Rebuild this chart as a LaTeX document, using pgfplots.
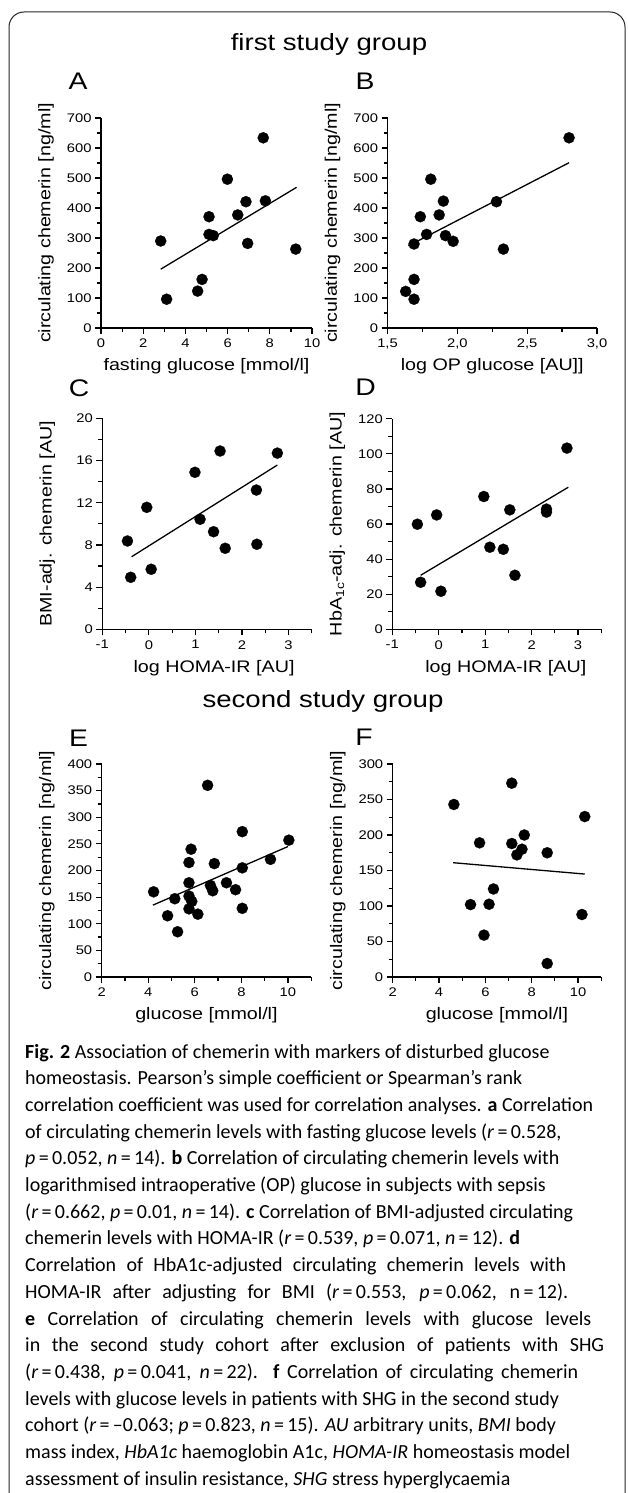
\documentclass[border=0pt]{standalone}
\usepackage{fontspec}
\setmainfont{Carlito}
\newfontfamily\chartfont[FakeStretch=1.18]{Liberation Sans}
\usepackage{pgfplots}
\pgfplotsset{compat=1.18}

\newcommand\tickfont{\chartfont\fontsize{12.5}{12.5}\selectfont}
\newcommand\labfont{\chartfont\fontsize{16.7}{17}\selectfont}
\newcommand\letfont{\chartfont\fontsize{24}{24}\selectfont}
\newcommand\titfont{\chartfont\fontsize{23.4}{24}\selectfont}

\pgfplotsset{
  panel/.style={
    scale only axis, clip=false, enlargelimits=false,
    anchor=south west,
    axis x line=bottom, axis y line=left,
    axis line style={-, line width=1.3pt},
    tick align=outside,
    major tick length=6pt, minor tick length=4pt,
    every tick/.style={black, line width=1.2pt},
    tick label style={font=\tickfont},
    xticklabel style={yshift=-1.5pt},
    label style={font=\labfont},
    xlabel style={at={([yshift=-38.5pt]axis description cs:0.5,0)}, anchor=center},
    ylabel style={at={([xshift=-55pt]axis description cs:0,0.5)}, anchor=center},
    /pgf/number format/assume math mode=true,
  },
  dots/.style={only marks, mark=*, mark size=5.6pt, mark options={fill=black, draw=black, line width=0.2pt}},
  fit/.style={black, line width=1.3pt, no marks},
}

\begin{document}
\begin{tikzpicture}
\useasboundingbox (0pt,0pt) rectangle (627pt,-1493pt);
\draw[line width=1pt, black!85, rounded corners=15pt] (9pt,-1493pt) -- (9pt,-12pt) -- (625pt,-12pt) -- (625pt,-1493pt);

\node[anchor=base, font=\titfont] at (329pt,-50.7pt) {first study group};
\node[anchor=base, font=\titfont] at (323pt,-707pt) {second study group};
\node[anchor=base, font=\letfont] at (78pt,-89.3pt) {A};
\node[anchor=base, font=\letfont] at (365pt,-89.3pt) {B};
\node[anchor=base, font=\letfont] at (79pt,-396.7pt) {C};
\node[anchor=base, font=\letfont] at (365.5pt,-395pt) {D};
\node[anchor=base, font=\letfont] at (78.5pt,-746pt) {E};
\node[anchor=base, font=\letfont] at (364pt,-745pt) {F};

% A
\begin{axis}[panel, at={(101pt,-328pt)}, width=211pt, height=210pt,
  xmin=0, xmax=10, xtick={0,2,...,10}, minor xtick={1,3,...,9},
  ymin=0, ymax=700, ytick={0,100,...,700}, minor ytick={50,150,...,650},
  xlabel={fasting glucose [mmol/l]}, ylabel={circulating chemerin [ng/ml]}]
\addplot[dots] coordinates {(2.83,290)(3.11,96)(4.58,123)(4.79,162)(5.12,371)(5.12,312)(5.32,308)(5.99,496)(6.48,377)(6.87,421)(6.95,282)(7.69,634)(7.79,424)(9.23,263)};
\addplot[fit] coordinates {(2.83,196)(9.27,469)};
\end{axis}

% B
\begin{axis}[panel, at={(387.5pt,-328pt)}, width=209.5pt, height=210pt,
  xmin=1.5, xmax=3.0, xtick={1.5,2,2.5,3}, xticklabels={{1,5},{2,0},{2,5},{3,0}}, minor xtick={1.75,2.25,2.75},
  ymin=0, ymax=700, ytick={0,100,...,700}, minor ytick={50,150,...,650},
  xlabel={log OP glucose [AU]]}, ylabel={circulating chemerin [ng/ml]}]
\addplot[dots] coordinates {(1.63,122)(1.69,96)(1.69,162)(1.69,280)(1.735,371)(1.78,312)(1.81,496)(1.87,377)(1.90,423)(1.915,308)(1.97,289)(2.28,421)(2.33,263)(2.80,634)};
\addplot[fit] coordinates {(1.65,274)(2.80,551)};
\end{axis}

% C
\begin{axis}[panel, at={(102.3pt,-629.3pt)}, width=209.5pt, height=211pt,
  xmin=-1, xmax=3.5, xtick={-1,0,1,2,3}, xticklabels={-1,0,1,2,3}, minor xtick={-0.5,0.5,1.5,2.5,3.5},
  ymin=0, ymax=20, ytick={0,4,...,20}, minor ytick={2,6,...,18},
  xlabel style={at={([xshift=7pt,yshift=-38.5pt]axis description cs:0.5,0)}},
  xlabel={log HOMA-IR [AU]}, ylabel={BMI-adj. chemerin [AU]}]
\addplot[dots] coordinates {(-0.46,8.37)(-0.39,4.93)(-0.045,11.56)(0.05,5.69)(0.99,14.88)(1.10,10.43)(1.39,9.25)(1.53,16.9)(1.64,7.68)(2.31,13.2)(2.32,8.06)(2.76,16.7)};
\addplot[fit] coordinates {(-0.37,6.88)(2.76,15.57)};
\end{axis}

% D
\begin{axis}[panel, at={(392.3pt,-629.3pt)}, width=209pt, height=210.5pt,
  xmin=-1, xmax=3.5, xtick={-1,0,1,2,3}, xticklabels={-1,0,1,2,3}, minor xtick={-0.5,0.5,1.5,2.5,3.5},
  ymin=0, ymax=120, ytick={0,20,...,120}, minor ytick={10,30,...,110},
  xlabel style={at={([xshift=9pt,yshift=-38.5pt]axis description cs:0.5,0)}},
  xlabel={log HOMA-IR [AU]}, ylabel={HbA\textsubscript{1c}-adj. chemerin [AU]}]
\addplot[dots] coordinates {(-0.46,59.9)(-0.39,26.8)(-0.045,65.2)(0.047,21.7)(0.97,75.7)(1.10,46.8)(1.39,45.6)(1.53,68.1)(1.64,30.8)(2.32,68.5)(2.32,66.8)(2.76,103.3)};
\addplot[fit] coordinates {(-0.39,30.8)(2.79,81)};
\end{axis}

% E
\begin{axis}[panel, at={(101.7pt,-977pt)}, width=209.5pt, height=213pt,
  xmin=2, xmax=11, xtick={2,4,...,10}, minor xtick={3,5,...,11},
  ymin=0, ymax=400, ytick={0,50,...,400}, minor ytick={25,75,...,375},
  xlabel={glucose [mmol/l]}, ylabel={circulating chemerin [ng/ml]}]
\addplot[dots] coordinates {(4.23,160)(4.83,115)(5.14,147)(5.26,85)(5.75,177)(5.75,215)(5.84,240)(5.75,152)(5.87,142)(5.75,128)(6.13,118)(6.55,360)(6.67,172)(6.77,162)(6.84,213)(7.36,177)(7.75,164)(8.04,273)(8.04,205)(8.04,129)(9.25,221)(10.04,257)};
\addplot[fit] coordinates {(4.20,135)(10.0,245)};
\end{axis}

% F
\begin{axis}[panel, at={(392.7pt,-977pt)}, width=208.5pt, height=213pt,
  xmin=2, xmax=11, xtick={2,4,...,10}, minor xtick={3,5,...,11},
  ymin=0, ymax=300, ytick={0,50,...,300}, minor ytick={25,75,...,275},
  xlabel={glucose [mmol/l]}, ylabel={circulating chemerin [ng/ml]}]
\addplot[dots] coordinates {(4.64,243)(5.36,102)(5.75,189)(5.94,59)(6.16,102.5)(6.35,124)(7.14,273)(7.14,188)(7.36,172)(7.58,180)(7.68,200)(8.67,175)(8.67,19)(10.17,88)(10.29,226)};
\addplot[fit] coordinates {(4.61,161)(10.29,145)};
\end{axis}

% caption
\begin{scope}[every node/.style={anchor=base west, inner sep=0pt, font=\fontsize{20}{26.7}\selectfont}]
\node at (25pt,-1058pt) {\textbf{Fig. 2} Association of chemerin with markers of disturbed glucose};
\node at (25pt,-1084.7pt) {homeostasis. Pearson’s simple coefficient or Spearman’s rank};
\node at (25pt,-1111.4pt) {correlation coefficient was used for correlation analyses. \textbf{a} Correlation};
\node at (25pt,-1138.1pt) {of circulating chemerin levels with fasting glucose levels (\textit{r}\,=\,0.528,};
\node at (25pt,-1164.8pt) {\textit{p}\,=\,0.052, \textit{n}\,=\,14). \textbf{b} Correlation of circulating chemerin levels with};
\node at (25pt,-1191.5pt) {logarithmised intraoperative (OP) glucose in subjects with sepsis};
\node at (25pt,-1218.2pt) {(\textit{r}\,=\,0.662, \textit{p}\,=\,0.01, \textit{n}\,=\,14). \textbf{c} Correlation of BMI-adjusted circulating};
\node at (25pt,-1244.9pt) {chemerin levels with HOMA-IR (\textit{r}\,=\,0.539, \textit{p}\,=\,0.071, \textit{n}\,=\,12). \textbf{d}};
\node at (25pt,-1271.6pt) {\makebox[541pt][s]{Correlation of HbA1c-adjusted circulating chemerin levels with}};
\node at (25pt,-1298.3pt) {\makebox[543pt][s]{HOMA-IR after adjusting for BMI (\textit{r}\,=\,0.553, \textit{p}\,=\,0.062, n\,=\,12).}};
\node at (25pt,-1325pt) {\makebox[566pt][s]{\textbf{e} Correlation of circulating chemerin levels with glucose levels}};
\node at (25pt,-1351.7pt) {\makebox[579pt][s]{in the second study cohort after exclusion of patients with SHG}};
\node at (25pt,-1378.4pt) {\makebox[553pt][s]{(\textit{r}\,=\,0.438, \textit{p}\,=\,0.041, \textit{n}\,=\,22). \textbf{f} Correlation of circulating chemerin}};
\node at (25pt,-1405.1pt) {levels with glucose levels in patients with SHG in the second study};
\node at (25pt,-1431.8pt) {cohort (\textit{r}\,=\,–0.063; \textit{p}\,=\,0.823, \textit{n}\,=\,15). \textit{AU} arbitrary units, \textit{BMI} body};
\node at (25pt,-1458.5pt) {mass index, \textit{HbA1c} haemoglobin A1c, \textit{HOMA-IR} homeostasis model};
\node at (25pt,-1485.2pt) {assessment of insulin resistance, \textit{SHG} stress hyperglycaemia};
\end{scope}
\end{tikzpicture}
\end{document}
